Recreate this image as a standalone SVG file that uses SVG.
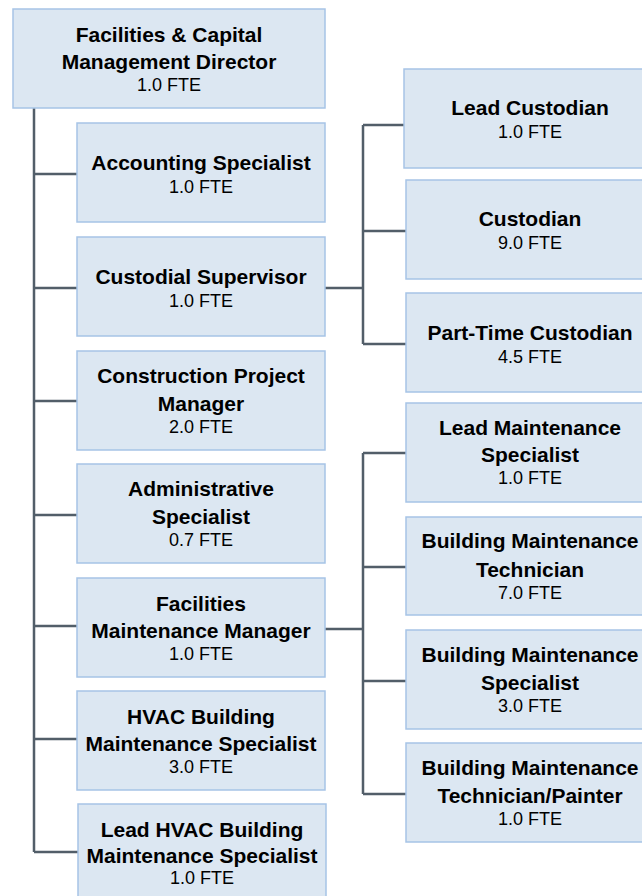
<svg xmlns="http://www.w3.org/2000/svg" width="642" height="896" viewBox="0 0 642 896">
<style>
.box{fill:#dce7f2;stroke:#a6c4e6;stroke-width:1.5}
.n{font-family:"Liberation Sans",Arial,sans-serif;font-weight:bold;font-size:21px;fill:#000;text-anchor:middle}
.f{font-family:"Liberation Sans",Arial,sans-serif;font-size:18px;fill:#000;text-anchor:middle}
.c{fill:none;stroke:#525e69;stroke-width:2.5}
</style>
<rect width="642" height="896" fill="#fff"/>
<g id="connectors">
<path class="c" d="M34 108 V852"/>
<path class="c" d="M34 174 H77 M34 288 H77 M34 401 H77 M34 515 H77 M34 626 H77 M34 739 H77 M34 852 H78"/>
<path class="c" d="M325 288 H363 M363 125 V344 M363 125 H404 M363 231 H406 M363 344 H406"/>
<path class="c" d="M325 629 H363 M363 453 V794 M363 453 H406 M363 567 H406 M363 681 H406 M363 794 H406"/>
</g>
<g id="director"><rect class="box" x="13" y="9" width="312" height="99"/><text class="n" x="169" y="41.5">Facilities &amp; Capital</text><text class="n" x="169" y="69">Management Director</text><text class="f" x="169" y="91">1.0 FTE</text></g>
<g id="accounting"><rect class="box" x="77" y="123" width="248" height="99"/><text class="n" x="201" y="169.5">Accounting Specialist</text><text class="f" x="201" y="192.5">1.0 FTE</text></g>
<g id="custodial-supervisor"><rect class="box" x="77" y="237" width="248" height="99"/><text class="n" x="201" y="283.5">Custodial Supervisor</text><text class="f" x="201" y="306.5">1.0 FTE</text></g>
<g id="construction"><rect class="box" x="77" y="351" width="248" height="99"/><text class="n" x="201" y="383">Construction Project</text><text class="n" x="201" y="410.5">Manager</text><text class="f" x="201" y="432.5">2.0 FTE</text></g>
<g id="administrative"><rect class="box" x="77" y="464" width="248" height="99"/><text class="n" x="201" y="496">Administrative</text><text class="n" x="201" y="523.5">Specialist</text><text class="f" x="201" y="545.5">0.7 FTE</text></g>
<g id="facilities-maint-mgr"><rect class="box" x="77" y="578" width="248" height="99"/><text class="n" x="201" y="610.5">Facilities</text><text class="n" x="201" y="637.5">Maintenance Manager</text><text class="f" x="201" y="659.5">1.0 FTE</text></g>
<g id="hvac"><rect class="box" x="77" y="691" width="248" height="99"/><text class="n" x="201" y="723.5">HVAC Building</text><text class="n" x="201" y="750.5">Maintenance Specialist</text><text class="f" x="201" y="772.5">3.0 FTE</text></g>
<g id="lead-hvac"><rect class="box" x="78" y="804" width="248" height="99"/><text class="n" x="202" y="836.5">Lead HVAC Building</text><text class="n" x="202" y="862.5">Maintenance Specialist</text><text class="f" x="202" y="884">1.0 FTE</text></g>
<g id="lead-custodian"><rect class="box" x="404" y="69" width="252" height="99"/><text class="n" x="530" y="114.5">Lead Custodian</text><text class="f" x="530" y="137.5">1.0 FTE</text></g>
<g id="custodian"><rect class="box" x="406" y="180" width="250" height="99"/><text class="n" x="530" y="225.5">Custodian</text><text class="f" x="530" y="248.5">9.0 FTE</text></g>
<g id="part-time-custodian"><rect class="box" x="406" y="293" width="250" height="99"/><text class="n" x="530" y="339.5">Part-Time Custodian</text><text class="f" x="530" y="362.5">4.5 FTE</text></g>
<g id="lead-maint-specialist"><rect class="box" x="406" y="403" width="250" height="99"/><text class="n" x="530" y="435">Lead Maintenance</text><text class="n" x="530" y="462">Specialist</text><text class="f" x="530" y="484">1.0 FTE</text></g>
<g id="bldg-maint-tech"><rect class="box" x="406" y="517" width="250" height="98"/><text class="n" x="530" y="547.5">Building Maintenance</text><text class="n" x="530" y="576.5">Technician</text><text class="f" x="530" y="598.5">7.0 FTE</text></g>
<g id="bldg-maint-specialist"><rect class="box" x="406" y="630" width="250" height="99"/><text class="n" x="530" y="661.5">Building Maintenance</text><text class="n" x="530" y="689.5">Specialist</text><text class="f" x="530" y="711.5">3.0 FTE</text></g>
<g id="bldg-maint-painter"><rect class="box" x="406" y="743" width="250" height="99"/><text class="n" x="530" y="774.5">Building Maintenance</text><text class="n" x="530" y="802.5">Technician/Painter</text><text class="f" x="530" y="824.5">1.0 FTE</text></g>
</svg>
